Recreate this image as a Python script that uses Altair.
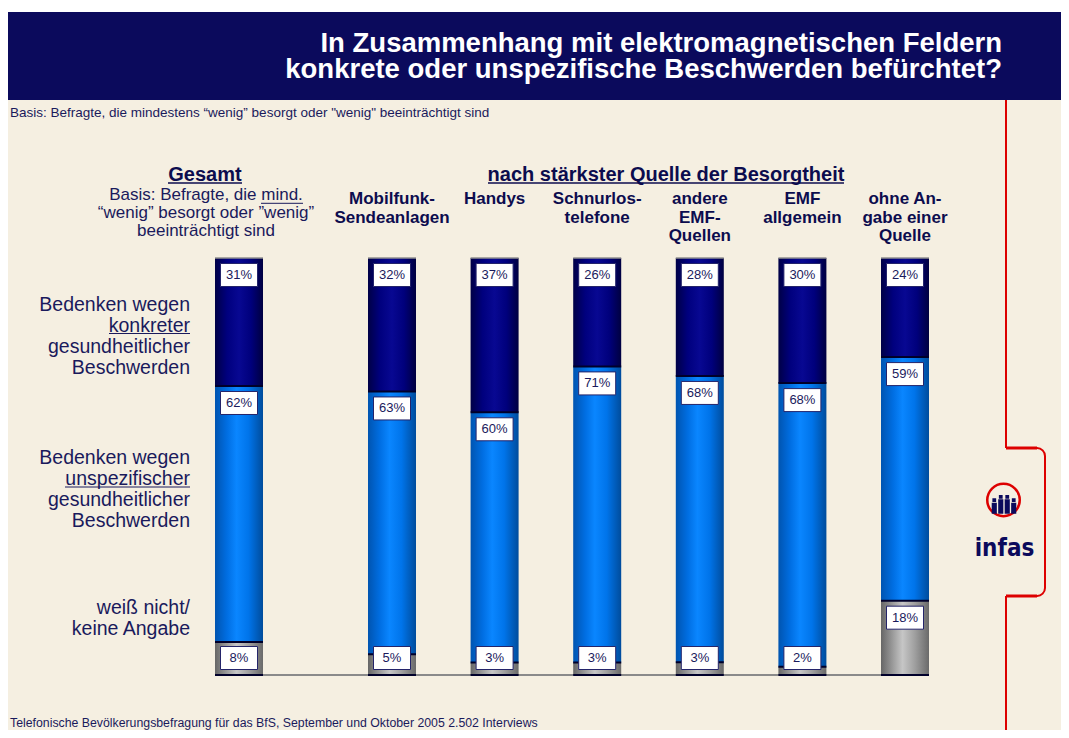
import altair as alt
import pandas as pd

# ---------------- data ----------------
categories = ["Gesamt", "Mobilfunk-Sendeanlagen", "Handys", "Schnurlostelefone",
              "andere EMF-Quellen", "EMF allgemein", "ohne Angabe einer Quelle"]
header_labels = ["Gesamt", "Mobilfunk-\nSendeanlagen", "Handys", "Schnurlos-\ntelefone",
                 "andere\nEMF-\nQuellen", "EMF\nallgemein", "ohne An-\ngabe einer\nQuelle"]
konkret = [31, 32, 37, 26, 28, 30, 24]
unspezifisch = [62, 63, 60, 71, 68, 68, 59]
weiss_nicht = [8, 5, 3, 3, 3, 2, 18]
segment_names = ["weiß nicht/keine Angabe", "unspezifische Beschwerden", "konkrete Beschwerden"]

left_labels = [
    ["Bedenken wegen", "konkreter", "gesundheitlicher", "Beschwerden"],
    ["Bedenken wegen", "unspezifischer", "gesundheitlicher", "Beschwerden"],
    ["weiß nicht/", "keine Angabe"],
]
title_lines = ["In Zusammenhang mit elektromagnetischen Feldern",
               "konkrete oder unspezifische Beschwerden befürchtet?"]
subtitle = "Basis: Befragte, die mindestens “wenig” besorgt oder \"wenig\" beeinträchtigt sind"
gesamt_title = "Gesamt"
gesamt_basis = ["Basis: Befragte, die mind.", "“wenig” besorgt oder ”wenig”", "beeinträchtigt sind"]
quellen_title = "nach stärkster Quelle der Besorgtheit"
footnote = "Telefonische Bevölkerungsbefragung für das BfS, September und Oktober 2005 2.502 Interviews"
logo_text = "infas"

rows = []
for i, c in enumerate(categories):
    for order, (seg, vals) in enumerate(zip(segment_names, [weiss_nicht, unspezifisch, konkret])):
        rows.append({"cat": c, "seg": seg, "order": order, "value": vals[i],
                     "label": f"{vals[i]}%"})
df = pd.DataFrame(rows)
head_df = pd.DataFrame({"cat": categories[1:], "header": header_labels[1:]})

# ---------------- layout / style ----------------
W, H = 1053, 722
BAR_TOP, BAR_BOTTOM = 250, 667
BAR_W = 48
G_LEFT, G_RIGHT = 207, 255
Q_LEFT, Q_RIGHT = 360, 921
FONT = "Liberation Sans, Arial, Helvetica, sans-serif"
NARROW = "Liberation Sans Narrow, DejaVu Sans Condensed, Arial Narrow, sans-serif"
TEXT = "#1a1a5c"
HEAD = "#0c0c4e"
BEIGE = "#f5efe1"
BANNER = "#0b0a5c"
RED = "#dd0000"
NAVY_LINE = "#00002a"


def band_scale(domain, left, right):
    n = len(domain)
    if n == 1:
        pi = 0.0
    else:
        step = (right - left - BAR_W) / (n - 1)
        pi = 1 - BAR_W / step
    return alt.Scale(type="band", domain=domain, range=[left, right],
                     paddingInner=pi, paddingOuter=0)


px_per_unit = BAR_BOTTOM - BAR_TOP
y_scale = alt.Scale(domain=[-(H - BAR_BOTTOM) / px_per_unit, 1 + BAR_TOP / px_per_unit],
                    nice=False, zero=False)
LABEL_OFF = 17
label_floor = 34 / px_per_unit


def grad(stops):
    return {"gradient": "linear", "x1": 0, "x2": 1, "y1": 0, "y2": 0,
            "stops": [{"offset": o, "color": c} for o, c in stops]}


fills = {
    0: grad([(0, "#666666"), (0.25, "#9c9c9c"), (0.45, "#c6c6c6"), (0.7, "#a0a0a0"), (1, "#6a6a6a")]),
    1: grad([(0, "#0054b0"), (0.25, "#006ee2"), (0.45, "#0a86ff"), (0.7, "#0074ea"), (1, "#004c9c")]),
    2: grad([(0, "#000046"), (0.25, "#00007e"), (0.5, "#080892"), (0.75, "#00007c"), (1, "#000040")]),
}

BOX = "M-1,-0.6216L1,-0.6216L1,0.6216L-1,0.6216Z"


def bar_layers(cats, scale):
    base = (alt.Chart(df)
            .transform_filter(alt.FieldOneOfPredicate(field="cat", oneOf=cats))
            .transform_stack(stack="value", groupby=["cat"], as_=["y0", "y1"],
                             offset="normalize",
                             sort=[alt.SortField("order", order="ascending")])
            .transform_calculate(ly=f"max(datum.y1, {label_floor})"))
    X = alt.X("cat:N", scale=scale, axis=None)
    out = []
    for o in (0, 1, 2):
        out.append(base.transform_filter(f"datum.order == {o}")
                   .mark_bar(fill=fills[o])
                   .encode(x=X, y=alt.Y("y0:Q", scale=y_scale, axis=None), y2="y1:Q"))
    out.append(base.transform_filter("datum.order < 2")
               .mark_tick(size=BAR_W, thickness=2, color=NAVY_LINE, opacity=1)
               .encode(x=X, y=alt.Y("y1:Q", scale=y_scale, axis=None)))
    out.append(base.transform_filter("datum.order == 2")
               .mark_tick(size=BAR_W, thickness=1.5, color="#8f8f8f", opacity=1)
               .encode(x=X, y=alt.Y("y1:Q", scale=y_scale, axis=None)))
    out.append(base.transform_filter("datum.order == 0")
               .mark_tick(size=BAR_W, thickness=2, color=NAVY_LINE, opacity=1)
               .encode(x=X, y=alt.Y("y0:Q", scale=y_scale, axis=None)))
    out.append(base.mark_point(shape=BOX, size=37 * 37, filled=True, fill="white",
                               stroke="#24246a", strokeWidth=1, opacity=1, yOffset=LABEL_OFF)
               .encode(x=X, y=alt.Y("ly:Q", scale=y_scale, axis=None)))
    out.append(base.mark_text(font=FONT, fontSize=13, color=TEXT, baseline="middle",
                              yOffset=LABEL_OFF)
               .encode(x=X, y=alt.Y("ly:Q", scale=y_scale, axis=None), text="label:N"))
    return out


deco = alt.Chart(pd.DataFrame({"d": [0]}))


def rect(x1, y1, x2, y2, color):
    return deco.mark_rect(color=color).encode(
        x=alt.value(x1), x2=alt.value(x2), y=alt.value(y1), y2=alt.value(y2))


def rule(x1, y1, x2, y2, color, w):
    return deco.mark_rule(color=color, strokeWidth=w, strokeCap="butt").encode(
        x=alt.value(x1), x2=alt.value(x2), y=alt.value(y1), y2=alt.value(y2))


def txt(text, x, y, size, weight="normal", align="left", baseline="alphabetic",
        color=TEXT, lh=None, font=FONT):
    kw = dict(text=text, fontSize=size, fontWeight=weight, align=align,
              baseline=baseline, color=color, font=font)
    if lh is not None:
        kw["lineHeight"] = lh
    return deco.mark_text(**kw).encode(x=alt.value(x), y=alt.value(y))


layers = []
# background & banner
layers.append(rect(0, 4, W, H, BEIGE))
layers.append(rect(0, 4, W, 92, BANNER))
layers.append(txt(title_lines, 994, 22, 27.5, "bold", "right", "top", color="white", lh=25.5))
layers.append(txt(subtitle, 2, 109.3, 13.5))

# red line and bracket
layers.append(rule(998, 92, 998, 440, RED, 2))
layers.append(rule(998, 440, 1029, 440, RED, 3))
layers.append(deco.mark_arc(color=RED, innerRadius=7, outerRadius=9, theta=0, theta2=1.5708)
              .encode(x=alt.value(1029), y=alt.value(448)))
layers.append(rule(1037, 448, 1037, 580, RED, 2))
layers.append(deco.mark_arc(color=RED, innerRadius=7, outerRadius=9, theta=1.5708, theta2=3.1416)
              .encode(x=alt.value(1029), y=alt.value(580)))
layers.append(rule(998, 588, 1029, 588, RED, 3))
layers.append(rule(998, 588, 998, H, RED, 2))

# logo
PEOPLE = ("M-0.86,-0.35h0.28v0.28h-0.28Z M-0.91,-0.02h0.38v0.82h-0.38Z "
          "M-0.38,-0.6h0.28v0.28h-0.28Z M-0.43,-0.27h0.38v1.07h-0.38Z "
          "M0.10,-0.6h0.28v0.28h-0.28Z M0.05,-0.27h0.38v1.07h-0.38Z "
          "M0.58,-0.35h0.28v0.28h-0.28Z M0.53,-0.02h0.38v0.82h-0.38Z")
layers.append(deco.mark_point(shape="circle", size=32.5 ** 2, filled=False, stroke=RED,
                              strokeWidth=2.5, opacity=1)
              .encode(x=alt.value(995.5), y=alt.value(492)))
layers.append(deco.mark_point(shape=PEOPLE, size=27 ** 2, filled=True, fill=BANNER,
                              opacity=1)
              .encode(x=alt.value(996), y=alt.value(495)))
layers.append(txt(logo_text, 996.5, 548, 24, "bold", "center", color=BANNER, font=NARROW))

# baseline
layers.append(rule(G_LEFT, BAR_BOTTOM, Q_RIGHT, BAR_BOTTOM, "#8a8a8a", 2))

# bars
layers += bar_layers(categories[:1], band_scale(categories[:1], G_LEFT, G_RIGHT))
q_scale = band_scale(categories[1:], Q_LEFT, Q_RIGHT)
layers += bar_layers(categories[1:], q_scale)

# category headers
layers.append(alt.Chart(head_df)
              .mark_text(font=FONT, fontSize=17, fontWeight="bold", color=HEAD,
                         baseline="top", lineBreak="\n", lineHeight=18.5)
              .encode(x=alt.X("cat:N", scale=q_scale, axis=None), y=alt.value(183),
                      text="header:N"))

# group headings
layers.append(txt(gesamt_title, 197, 172.7, 20, "bold", "center", color=HEAD))
layers.append(rule(160, 175, 234, 175, HEAD, 1.5))
layers.append(txt(quellen_title, 658, 172.7, 20, "bold", "center", color=HEAD))
layers.append(rule(480, 175, 836, 175, HEAD, 1.5))
layers.append(txt(gesamt_basis, 198, 178.6, 17, "normal", "center", "top", lh=18))
layers.append(rule(253, 195.3, 295, 195.3, TEXT, 1))

# row labels
for lines, ytop in zip(left_labels, [287.7, 441, 591]):
    layers.append(txt(lines, 182, ytop, 19.5, "normal", "right", "top", lh=21))
layers.append(rule(101, 325.5, 182, 325.5, TEXT, 1))
layers.append(rule(57, 479, 182, 479, TEXT, 1))

# footnote
layers.append(txt(footnote, 2, 719, 12.3))

chart = (alt.layer(*layers)
         .resolve_scale(x="independent")
         .properties(width=W, height=H, padding=0,
                     autosize=alt.AutoSizeParams(type="none"), background="white")
         .configure_view(stroke=None))

chart.save("out.html", embed_options={"renderer": "svg", "actions": False})
